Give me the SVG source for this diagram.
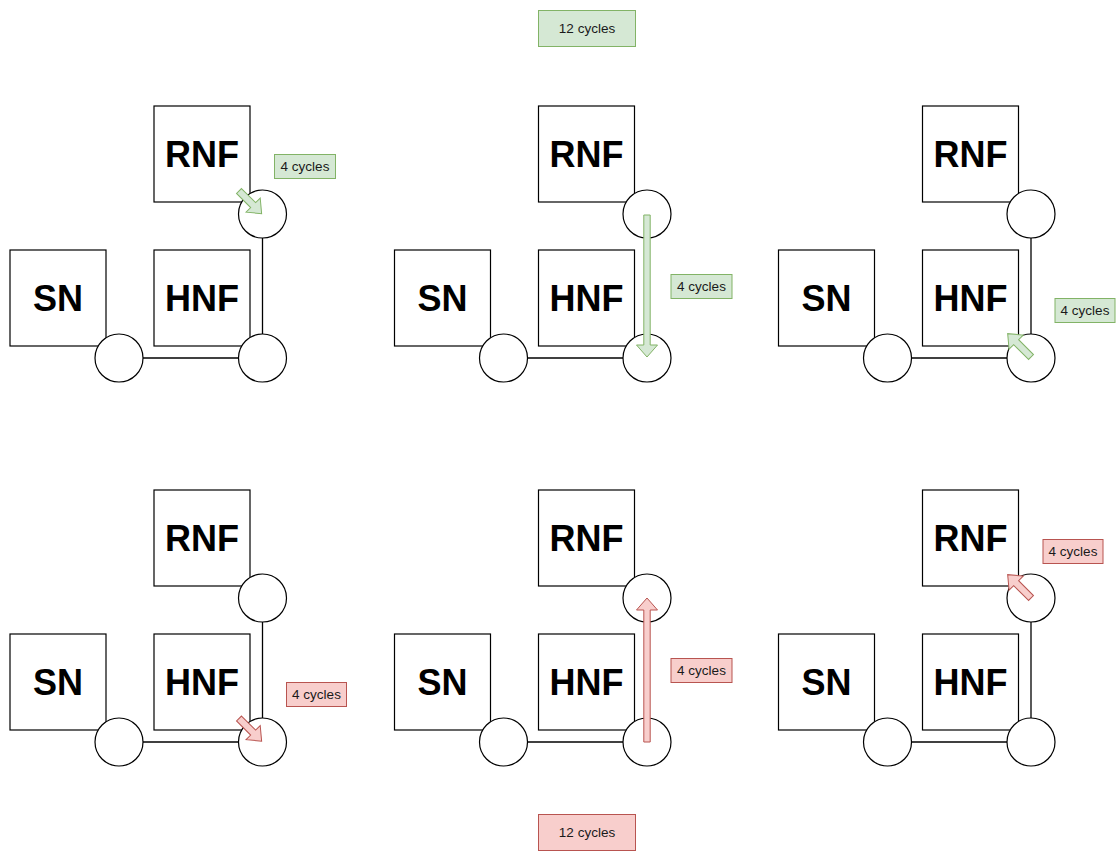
<svg xmlns="http://www.w3.org/2000/svg" width="1119" height="851" viewBox="0 0 1119 851">
  <style>
    .box { fill: #ffffff; stroke: #000000; stroke-width: 1.2; }
    .ring { fill: #ffffff; stroke: #000000; stroke-width: 1.2; }
    .wire { stroke: #000000; stroke-width: 1.3; fill: none; }
    .big { font-family: "Liberation Sans", Arial, Helvetica, sans-serif; font-size: 36px; font-weight: bold; fill: #000000; text-anchor: middle; }
    .small { font-family: "Liberation Sans", Arial, Helvetica, sans-serif; font-size: 13.5px; fill: #1a1a1a; text-anchor: middle; dominant-baseline: central; }
    .g-fill { fill: #d5e8d4; stroke: #82b366; stroke-width: 1; }
    .r-fill { fill: #f8cecc; stroke: #b85450; stroke-width: 1; }
  </style>

  <defs>
    <!-- one mesh tile: three nodes, their crosspoints -->
    <g id="tile-nodes">
      <rect class="box" x="10" y="250" width="96" height="96"/>
      <text class="big" x="58" y="311">SN</text>
      <rect class="box" x="154" y="250" width="96" height="96"/>
      <text class="big" x="202" y="311">HNF</text>
      <rect class="box" x="154" y="106" width="96" height="96"/>
      <text class="big" x="202" y="167">RNF</text>
    </g>
    <g id="tile-links">
      <line class="wire" x1="143" y1="358" x2="238.5" y2="358"/>
      <line class="wire" x1="262.5" y1="238" x2="262.5" y2="334"/>
    </g>
    <g id="tile-xp">
      <circle class="ring" cx="119" cy="358" r="24"/>
      <circle class="ring" cx="262.5" cy="358" r="24"/>
      <circle class="ring" cx="262.5" cy="214" r="24"/>
    </g>
  </defs>

  <!-- top row (request path) -->
  <g id="panel-top-1">
    <g id="nodes-top-1"><use href="#tile-nodes"/></g>
    <g id="connectors-top-1"><use href="#tile-links"/></g>
    <g id="xp-top-1"><use href="#tile-xp"/></g>
    <polygon class="g-fill" transform="translate(239,191) rotate(45)" points="0,-3.5 20,-3.5 20,-10 32,0 20,10 20,3.5 0,3.5"/>
    <g id="label-top-1">
      <rect class="g-fill" x="274.5" y="154.5" width="61" height="24"/>
      <text class="small" x="305" y="166.5">4 cycles</text>
    </g>
  </g>

  <g id="panel-top-2" transform="translate(384.5,0)">
    <g id="nodes-top-2"><use href="#tile-nodes"/></g>
    <g id="connectors-top-2"><use href="#tile-links"/></g>
    <g id="xp-top-2"><use href="#tile-xp"/></g>
    <polygon class="g-fill" transform="translate(262.5,215) rotate(90)" points="0,-3.2 130,-3.2 130,-10.5 142,0 130,10.5 130,3.2 0,3.2"/>
    <g id="label-top-2">
      <rect class="g-fill" x="286.5" y="274.5" width="61" height="24"/>
      <text class="small" x="317" y="286.5">4 cycles</text>
    </g>
  </g>

  <g id="panel-top-3" transform="translate(768.5,0)">
    <g id="nodes-top-3"><use href="#tile-nodes"/></g>
    <g id="connectors-top-3"><use href="#tile-links"/></g>
    <g id="xp-top-3"><use href="#tile-xp"/></g>
    <polygon class="g-fill" transform="translate(262.5,357) rotate(-135)" points="0,-3.5 21,-3.5 21,-10 33,0 21,10 21,3.5 0,3.5"/>
    <g id="label-top-3">
      <rect class="g-fill" x="286.5" y="298.5" width="60" height="24"/>
      <text class="small" x="316.5" y="310.5">4 cycles</text>
    </g>
  </g>

  <g id="total-top">
    <rect class="g-fill" x="538.5" y="10.5" width="97" height="36"/>
    <text class="small" x="587" y="28.5">12 cycles</text>
  </g>

  <!-- bottom row (response path) -->
  <g id="panel-bottom-1" transform="translate(0,384)">
    <g id="nodes-bottom-1"><use href="#tile-nodes"/></g>
    <g id="connectors-bottom-1"><use href="#tile-links"/></g>
    <g id="xp-bottom-1"><use href="#tile-xp"/></g>
    <polygon class="r-fill" transform="translate(239,334.5) rotate(45)" points="0,-3.5 20,-3.5 20,-10 32,0 20,10 20,3.5 0,3.5"/>
    <g id="label-bottom-1">
      <rect class="r-fill" x="286.5" y="298.5" width="60" height="24"/>
      <text class="small" x="316.5" y="310.5">4 cycles</text>
    </g>
  </g>

  <g id="panel-bottom-2" transform="translate(384.5,384)">
    <g id="nodes-bottom-2"><use href="#tile-nodes"/></g>
    <g id="connectors-bottom-2"><use href="#tile-links"/></g>
    <g id="xp-bottom-2"><use href="#tile-xp"/></g>
    <polygon class="r-fill" transform="translate(262.5,358) rotate(-90)" points="0,-3.2 132,-3.2 132,-10.5 144,0 132,10.5 132,3.2 0,3.2"/>
    <g id="label-bottom-2">
      <rect class="r-fill" x="286.5" y="274.5" width="61" height="24"/>
      <text class="small" x="317" y="286.5">4 cycles</text>
    </g>
  </g>

  <g id="panel-bottom-3" transform="translate(768.5,384)">
    <g id="nodes-bottom-3"><use href="#tile-nodes"/></g>
    <g id="connectors-bottom-3"><use href="#tile-links"/></g>
    <g id="xp-bottom-3"><use href="#tile-xp"/></g>
    <polygon class="r-fill" transform="translate(262.5,214) rotate(-135)" points="0,-3.5 21,-3.5 21,-10 33,0 21,10 21,3.5 0,3.5"/>
    <g id="label-bottom-3">
      <rect class="r-fill" x="274.5" y="155.5" width="60" height="24"/>
      <text class="small" x="304.5" y="167.5">4 cycles</text>
    </g>
  </g>

  <g id="total-bottom">
    <rect class="r-fill" x="538.5" y="814.5" width="97" height="36"/>
    <text class="small" x="587" y="832.5">12 cycles</text>
  </g>
</svg>
